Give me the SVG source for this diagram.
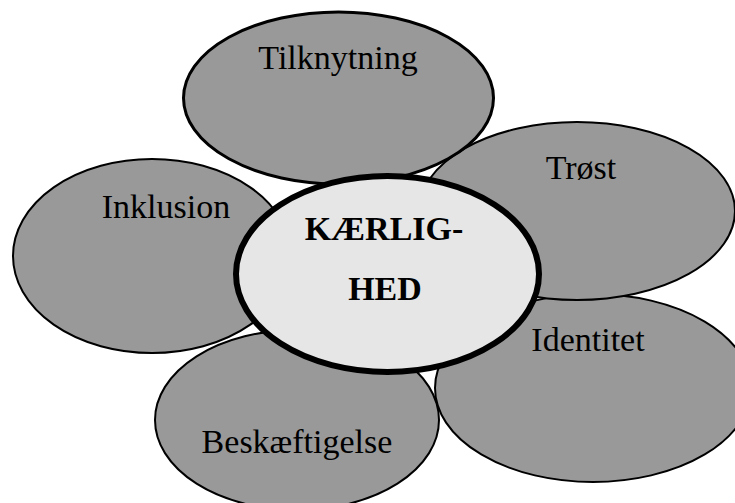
<svg xmlns="http://www.w3.org/2000/svg" width="735" height="503" viewBox="0 0 735 503">
<style>
.petal{fill:#999999;stroke:#000;stroke-width:2}
.lbl{font-family:"Liberation Serif","Times New Roman",serif;font-size:34px;fill:#000;text-anchor:middle}
.ctr{font-weight:bold}
</style>
<rect width="735" height="503" fill="#fff"/>
<g id="beskaeftigelse">
<ellipse class="petal" cx="297" cy="420" rx="142" ry="90"/>
<text class="lbl" x="297" y="453">Beskæftigelse</text>
</g>
<g id="identitet">
<ellipse class="petal" cx="593" cy="388" rx="158" ry="94"/>
<text class="lbl" x="588" y="351">Identitet</text>
</g>
<g id="troest">
<ellipse class="petal" cx="577" cy="211" rx="158" ry="89"/>
<text class="lbl" x="581" y="179">Trøst</text>
</g>
<g id="inklusion">
<ellipse class="petal" cx="152" cy="256" rx="139" ry="97"/>
<text class="lbl" x="166" y="218">Inklusion</text>
</g>
<g id="tilknytning">
<ellipse class="petal" cx="338.5" cy="98" rx="155" ry="86" style="stroke-width:3"/>
<text class="lbl" x="338" y="69">Tilknytning</text>
</g>
<g id="kaerlighed">
<ellipse cx="387.5" cy="274" rx="151.5" ry="98" fill="#e6e6e6" stroke="#000" stroke-width="6"/>
<text class="lbl ctr" x="384" y="240">KÆRLIG-</text>
<text class="lbl ctr" x="385" y="300">HED</text>
</g>
<g id="connectors"/>
</svg>
